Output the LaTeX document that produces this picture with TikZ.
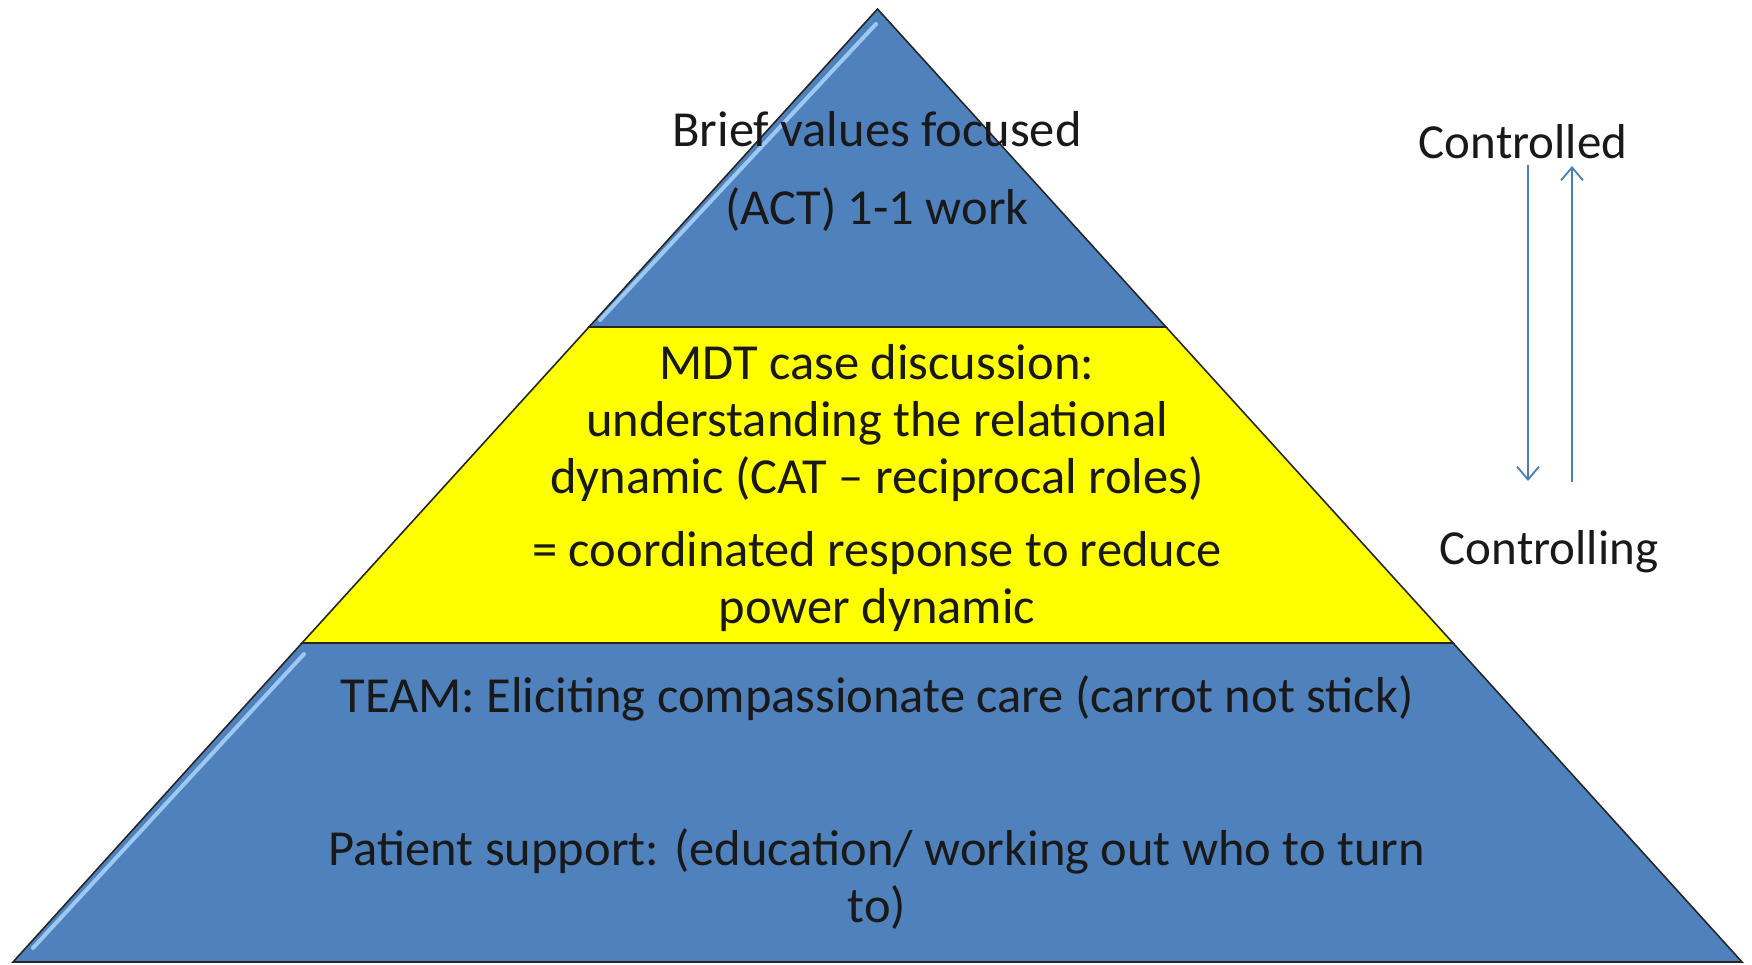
\documentclass[tikz,border=0pt]{standalone}
\usepackage{fontspec}
\setmainfont{Carlito}
\usetikzlibrary{arrows.meta}
\definecolor{tierblue}{HTML}{4F81BD}
\definecolor{tieryellow}{HTML}{FFFF00}
\definecolor{hilite}{HTML}{9CC8F2}
\definecolor{arrowblue}{HTML}{4A7EBB}
\tikzset{
  tier/.style={draw=black!85, line width=1.6pt, line join=miter},
  glow/.style={hilite, line width=4pt, line cap=round},
  label/.style={align=center, text=black!90, font=\fontsize{50.5}{57}\selectfont, inner sep=0pt},
  side/.style={label, font=\fontsize{49}{57}\selectfont},
  flow/.style={arrowblue, line width=1.8pt, -{Straight Barb[length=13pt, width=22pt, line width=1.8pt]}}
}
\begin{document}
\begin{tikzpicture}[x=1pt,y=-1pt]
\useasboundingbox (0,0) rectangle (1752,965);
% pyramid corners
\coordinate (apex) at (877.5,9);
\coordinate (aL) at (589,327);
\coordinate (aR) at (1166,327);
\coordinate (bL) at (302,643);
\coordinate (bR) at (1453,643);
\coordinate (cL) at (13,962);
\coordinate (cR) at (1742,962);
% tiers
\draw[tier, fill=tierblue] (apex) -- (aR) -- (aL) -- cycle;
\draw[tier, fill=tieryellow] (aL) -- (aR) -- (bR) -- (bL) -- cycle;
\draw[tier, fill=tierblue] (bL) -- (bR) -- (cR) -- (cL) -- cycle;
% bevel highlights
\draw[glow] (876,24) -- (600,320);
\draw[glow] (304,654) -- (33,948);
% texts
\node[label] (top) at (877,171) {Brief values focused\\[21pt](ACT) 1-1 work};
\node[label] (mid) at (877,488) {MDT case discussion:\\understanding the relational\\dynamic (CAT -- reciprocal roles)\\[16pt]= coordinated response to reduce\\power dynamic};
\node[label] (team) at (877,698) {TEAM: Eliciting compassionate care (carrot not stick)};
\node[label] (pat) at (877,879) {Patient support: (education/ working out who to turn\\to)};
\node[side] (ctd) at (1523,142) {Controlled};
\node[side] (ctg) at (1549,552) {Controlling};
% arrows
\coordinate (d1) at (1528,165);
\coordinate (d2) at (1528,481);
\coordinate (u1) at (1572,482);
\coordinate (u2) at (1572,166);
\draw[flow] (d1) -- (d2);
\draw[flow] (u1) -- (u2);
\end{tikzpicture}
\end{document}
